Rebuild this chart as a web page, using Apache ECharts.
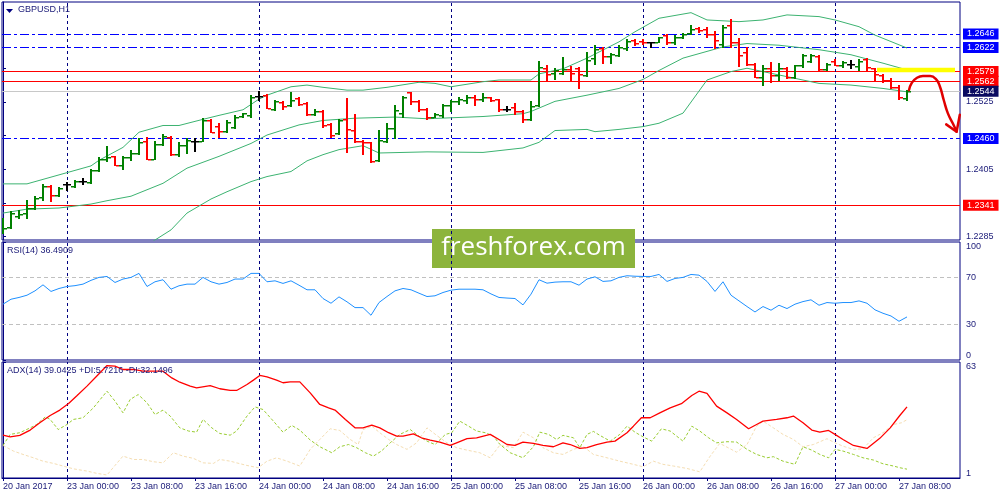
<!DOCTYPE html>
<html><head><meta charset="utf-8">
<script src="https://cdn.jsdelivr.net/npm/echarts/dist/echarts.min.js"></script>
<style>html,body{margin:0;padding:0;background:#fff}#c{width:1000px;height:500px}</style>
</head><body><div id="c"></div><script>
// ---------- DATA ----------
const symbolTitle = 'GBPUSD,H1';
const rsiTitle = 'RSI(14) 36.4909';
const adxTitle = 'ADX(14) 39.0425 +DI:5.7216 -DI:32.1496';
const watermarkText = 'freshforex.com';

const tickIdx = [0, 8, 16, 24, 32, 40, 48, 56, 64, 72, 80, 88, 96, 104, 112];
const tickLabels = ['20 Jan 2017', '23 Jan 00:00', '23 Jan 08:00', '23 Jan 16:00', '24 Jan 00:00', '24 Jan 08:00', '24 Jan 16:00',
  '25 Jan 00:00', '25 Jan 08:00', '25 Jan 16:00', '26 Jan 00:00', '26 Jan 08:00', '26 Jan 16:00', '27 Jan 00:00', '27 Jan 08:00'];
const dayStartIdx = [8, 32, 56, 80, 104];

const opens = [1.2295,1.2302,1.2322,1.2327,1.2336,1.2355,1.2376,1.2359,1.2378,1.2376,1.2385,1.2383,1.2404,1.2424,1.2428,1.2412,1.2426,1.2434,1.2455,1.2424,
1.2450,1.2463,1.2432,1.2448,1.2455,1.2456,1.2492,1.2482,1.2474,1.2481,1.2500,1.2501,1.2536,1.2537,1.2513,1.2525,1.2520,1.2532,1.2523,1.2503,
1.2508,1.2485,1.2469,1.2494,1.2475,1.2455,1.2453,1.2421,1.2456,1.2479,1.2505,1.2542,1.2526,1.2512,1.2499,1.2502,1.2520,1.2526,1.2529,1.2533,
1.2530,1.2533,1.2530,1.2513,1.2516,1.2509,1.2494,1.2519,1.2586,1.2576,1.2577,1.2583,1.2585,1.2573,1.2603,1.2621,1.2606,1.2609,1.2621,1.2635,
1.2634,1.2632,1.2632,1.2644,1.2631,1.2640,1.2647,1.2656,1.2655,1.2646,1.2629,1.2662,1.2632,1.2614,1.2592,1.2570,1.2586,1.2573,1.2585,1.2570,
1.2590,1.2598,1.2606,1.2584,1.2598,1.2590,1.2593,1.2589,1.2602,1.2585,1.2573,1.2564,1.2552,1.2532];
const highs = [1.2318,1.2330,1.2333,1.2351,1.2357,1.2379,1.2377,1.2374,1.2383,1.2386,1.2390,1.2406,1.2426,1.2446,1.2428,1.2428,1.2440,1.2460,1.2462,1.2456,
1.2468,1.2464,1.2454,1.2460,1.2460,1.2496,1.2494,1.2487,1.2492,1.2502,1.2506,1.2537,1.2544,1.2539,1.2529,1.2527,1.2543,1.2534,1.2524,1.2512,
1.2510,1.2487,1.2495,1.2532,1.2504,1.2457,1.2454,1.2475,1.2487,1.2520,1.2536,1.2543,1.2529,1.2514,1.2506,1.2521,1.2529,1.2533,1.2537,1.2537,
1.2541,1.2534,1.2531,1.2518,1.2523,1.2511,1.2526,1.2598,1.2591,1.2585,1.2605,1.2589,1.2588,1.2614,1.2626,1.2623,1.2613,1.2626,1.2637,1.2637,
1.2637,1.2632,1.2641,1.2646,1.2644,1.2647,1.2662,1.2658,1.2658,1.2652,1.2662,1.2672,1.2638,1.2622,1.2594,1.2590,1.2596,1.2594,1.2588,1.2591,
1.2610,1.2610,1.2608,1.2594,1.2602,1.2598,1.2600,1.2602,1.2604,1.2586,1.2574,1.2567,1.2556,1.2546];
const lows = [1.2292,1.2300,1.2318,1.2318,1.2334,1.2350,1.2349,1.2358,1.2368,1.2374,1.2379,1.2381,1.2402,1.2419,1.2412,1.2405,1.2422,1.2432,1.2423,1.2423,
1.2449,1.2431,1.2429,1.2434,1.2437,1.2455,1.2471,1.2463,1.2471,1.2479,1.2499,1.2499,1.2529,1.2514,1.2511,1.2512,1.2518,1.2520,1.2502,1.2502,
1.2481,1.2463,1.2468,1.2435,1.2453,1.2432,1.2418,1.2420,1.2454,1.2461,1.2498,1.2521,1.2509,1.2495,1.2498,1.2499,1.2509,1.2521,1.2523,1.2520,
1.2526,1.2526,1.2509,1.2509,1.2504,1.2490,1.2492,1.2517,1.2564,1.2566,1.2575,1.2564,1.2549,1.2572,1.2593,1.2595,1.2594,1.2606,1.2618,1.2626,
1.2628,1.2623,1.2631,1.2629,1.2629,1.2638,1.2646,1.2650,1.2641,1.2621,1.2622,1.2622,1.2589,1.2590,1.2569,1.2555,1.2561,1.2564,1.2567,1.2567,
1.2588,1.2596,1.2582,1.2582,1.2590,1.2588,1.2585,1.2582,1.2582,1.2564,1.2561,1.2550,1.2530,1.2529];
const closes = [1.2301,1.2327,1.2326,1.2336,1.2354,1.2375,1.2359,1.2372,1.2378,1.2384,1.2385,1.2404,1.2424,1.2427,1.2412,1.2426,1.2434,1.2454,1.2424,1.2450,
1.2465,1.2432,1.2448,1.2457,1.2455,1.2492,1.2472,1.2474,1.2490,1.2499,1.2505,1.2533,1.2536,1.2514,1.2527,1.2517,1.2528,1.2521,1.2503,1.2508,
1.2483,1.2466,1.2492,1.2477,1.2456,1.2453,1.2420,1.2457,1.2478,1.2510,1.2533,1.2526,1.2512,1.2499,1.2503,1.2520,1.2526,1.2530,1.2533,1.2530,
1.2533,1.2529,1.2512,1.2513,1.2509,1.2494,1.2518,1.2587,1.2575,1.2581,1.2583,1.2576,1.2575,1.2600,1.2619,1.2606,1.2610,1.2623,1.2634,1.2630,
1.2631,1.2632,1.2640,1.2632,1.2641,1.2646,1.2655,1.2653,1.2646,1.2635,1.2659,1.2631,1.2609,1.2593,1.2570,1.2585,1.2573,1.2586,1.2570,1.2590,
1.2608,1.2608,1.2584,1.2592,1.2591,1.2596,1.2593,1.2598,1.2588,1.2574,1.2564,1.2552,1.2533,1.2544];

const bbUpper = [[0,1.2379],[3,1.2379],[7,1.2395],[11,1.2411],[12,1.2421],[15,1.2444],[17,1.2471],[20,1.2483],[22,1.2483],[25,1.2494],[27,1.2501],[30,1.2511],
[32,1.2530],[33,1.2537],[36,1.2552],[38,1.2555],[40,1.2551],[43,1.2546],[45,1.2546],[48,1.2551],[52,1.2560],[54,1.2558],[56,1.2552],[60,1.2561],[62,1.2564],
[66,1.2564],[67,1.2575],[70,1.2584],[73,1.2603],[77,1.2632],[79,1.2650],[82,1.2674],[86,1.2684],[88,1.2671],[92,1.2668],[95,1.2671],[98,1.2680],[102,1.2677],
[104,1.2671],[107,1.2659],[109,1.2644],[113,1.2621]];
const bbMiddle = [[0,1.2327],[3,1.2334],[7,1.2336],[11,1.2343],[13,1.2349],[16,1.2357],[20,1.2380],[23,1.2407],[27,1.2428],[31,1.2451],[33,1.2466],[37,1.2484],
[40,1.2492],[44,1.2496],[49,1.2498],[53,1.2495],[60,1.2499],[65,1.2504],[66,1.2508],[69,1.2526],[73,1.2537],[77,1.2549],[80,1.2565],[82,1.2581],[85,1.2603],
[90,1.2623],[93,1.2629],[97,1.2626],[102,1.2618],[106,1.2609],[110,1.2594],[113,1.2582]];
const bbLower = [[15,1.2245],[19,1.2279],[21,1.2297],[23,1.2327],[26,1.2352],[28,1.2365],[31,1.2383],[33,1.2392],[36,1.2401],[38,1.2420],[40,1.2431],[42,1.2440],
[45,1.2447],[47,1.2434],[53,1.2436],[60,1.2435],[65,1.2443],[67,1.2453],[69,1.2474],[73,1.2476],[74,1.2472],[77,1.2476],[80,1.2481],[82,1.2487],[85,1.2505],
[88,1.2564],[89,1.2569],[91,1.2579],[93,1.2585],[97,1.2573],[102,1.2558],[106,1.2555],[110,1.2549],[113,1.2543]];

const levelValues = [1.2646, 1.2622, 1.2579, 1.2562, 1.2544, 1.2460, 1.2341];
const levelKinds = ['support', 'support', 'resist', 'resist', 'bid', 'support', 'resist'];
const priceTicks = [1.2285, 1.2345, 1.2405, 1.2465, 1.2525, 1.2585, 1.2645];
const priceLabels = [1.2285, 1.2405, 1.2525];
const highlightBox = [109.25, 119.0, 1.2578, 1.2586];
const arrowPath = [[113.25,1.2546],[113.6,1.2559],[114.25,1.2568],[115.0,1.2571],[115.9,1.2571],[116.6,1.2566],[117.1,1.2553],[117.6,1.2528],[118.1,1.2505],[118.75,1.2486],[119.2,1.2472]];
const arrowHead = [[117.9,1.2485],[119.2,1.2472],[119.6,1.2502]];

const rsiValues = [47.3,51.5,53.0,54.9,58.6,63.7,58.1,60.6,62.3,63.0,64.3,67.5,70.0,70.8,65.7,68.6,70.0,73.4,62.3,66.3,
68.0,60.0,62.9,64.3,64.3,70.0,66.3,64.3,65.7,68.6,68.6,73.4,73.4,66.3,67.1,64.9,67.1,63.4,59.5,59.5,
52.1,48.1,53.5,49.3,44.4,44.4,37.9,48.7,53.8,58.6,60.6,59.5,56.6,53.8,54.4,57.2,59.2,60.0,60.0,60.0,
59.5,56.0,53.0,52.5,52.1,46.7,55.8,68.0,65.1,66.0,66.3,66.3,63.4,68.6,70.5,66.6,67.1,70.0,71.4,71.0,
70.8,70.8,72.5,66.6,69.1,70.0,72.5,71.9,66.6,58.1,66.3,54.9,50.1,45.3,40.7,45.3,42.2,46.4,43.6,47.3,
49.5,51.0,46.4,48.7,48.1,48.7,48.7,50.1,48.1,42.5,39.6,37.3,32.8,36.5];
const rsiLevels = [70, 30];
const rsiLabels = [0, 30, 70, 100];

const adxMain = [[0,23.9],[0.9,23.0],[2.1,23.8],[3.4,26.6],[4.6,30.5],[5.9,34.4],[7.1,37.3],[8.2,40.8],[9.2,44.8],[10.5,50.1],[11.7,55.4],[13,61.1],[14,60.8],
[15,59.0],[16.3,59.0],[17.5,58.1],[18.8,58.1],[20,58.1],[21.1,54.5],[22.1,52.2],[23.4,50.1],[24.2,49.2],[25.9,50.4],[27.1,48.7],[28.4,47.8],[29.2,47.8],
[30.5,51.0],[31.3,53.3],[32.1,55.8],[33,55.1],[34.2,53.3],[35,51.9],[35.9,52.4],[37.1,52.4],[38.4,46.5],[39.6,40.3],[40.7,38.5],[41.5,37.3],[42.8,32.3],
[44,27.8],[45,27.8],[46.1,29.3],[47.1,27.8],[48.2,25.2],[49.2,23.4],[50,23.4],[51.3,24.6],[52.3,22.5],[53.4,21.3],[54.6,20.2],[55.9,18.4],[56.7,19.8],
[58,22.0],[59.2,22.5],[60.9,24.3],[62.1,21.3],[63,18.9],[64,18.4],[65,20.2],[66.3,19.5],[67.5,18.4],[68.8,17.7],[70,19.8],[70.9,18.9],[72.1,16.8],
[73,17.2],[74.2,18.9],[75.5,20.2],[76.5,20.7],[78,25.2],[78.8,28.7],[79.8,33.2],[80.9,33.2],[82.1,35.8],[83.4,38.5],[84.8,40.7],[86.1,45.1],[87,47.4],
[88,46.2],[89.2,39.4],[90.5,35.8],[91.7,32.3],[93.2,27.3],[94.2,29.6],[95,31.4],[96.7,32.3],[98,33.2],[98.8,34.1],[100,30.5],[101.1,26.6],[102.1,25.5],
[103.2,26.4],[104,24.3],[105,21.6],[106.3,18.4],[108,16.8],[109.6,22.2],[110.9,27.8],[112.1,34.4],[113,39.04]];
const plusDI = [[0,18.4],[0.9,24.3],[2.1,25.2],[3.4,27.8],[4.2,29.6],[5.3,33.7],[5.9,32.3],[6.9,26.9],[8,29.6],[8.8,32.3],[10,33.2],[11.3,38.5],[13,47.4],
[14,42.1],[15,35.8],[15.9,43.0],[16.9,45.6],[18,41.2],[19,34.9],[20,37.3],[20.9,34.1],[22.1,27.8],[23.2,26.1],[24.2,25.5],[25,32.3],[26.1,27.8],[27.1,24.8],
[28.4,23.9],[29.2,26.1],[30.5,34.1],[31.5,39.0],[32.5,37.6],[33.8,31.4],[35,25.5],[36.1,29.1],[37.1,26.6],[38.4,21.3],[39.6,17.7],[41.1,14.5],[42.1,17.7],
[43.2,18.9],[44.2,17.2],[45.3,14.5],[46.3,12.7],[47.3,15.4],[48.4,19.8],[49.6,24.3],[50.9,26.9],[52.1,23.0],[53,20.7],[54,18.9],[55.3,24.3],[56.1,25.2],
[57.1,31.4],[58.2,28.7],[59.2,26.1],[60.3,25.2],[61.3,23.4],[62.1,19.0],[63.4,14.5],[65,11.8],[66.3,17.7],[67.1,25.5],[68.2,24.3],[69.2,21.6],[70,23.8],
[71.3,22.5],[72.1,17.2],[73,24.3],[73.8,25.9],[74.6,23.8],[75.9,20.7],[77.1,24.3],[78,28.7],[79,25.5],[80,23.0],[81.1,20.7],[82.3,27.3],[83.4,26.1],
[85,20.7],[86.1,28.7],[87.1,26.1],[88.2,22.5],[89.2,19.8],[90.5,20.4],[91.7,20.2],[93,16.3],[94.2,13.6],[95.5,11.8],[96.3,12.4],[97.5,10.0],[99,8.3],
[100,17.7],[101.1,15.9],[102.1,13.6],[103.2,11.8],[104,16.3],[105,15.4],[106.3,13.6],[107.5,11.8],[108.8,10.6],[110,8.6],[111.3,7.4],[112.1,6.5],[113,5.72]];
const minusDI = [[0,18.4],[1.3,15.4],[2.5,13.6],[3.8,11.8],[5,10.0],[6.3,8.8],[7.5,7.4],[8.8,5.9],[10.5,4.7],[11.7,3.5],[13,2.6],[14,7.7],[15,12.7],[16.3,10.9],
[17.5,10.9],[18.8,9.7],[20,9.1],[21.3,14.5],[22.5,12.7],[23.8,11.5],[25,9.1],[26.3,8.8],[27.1,10.9],[28.4,10.0],[29.2,9.1],[30.5,7.7],[31.9,6.5],[33,10.0],
[34.2,11.8],[35.5,10.0],[37.1,7.4],[38.4,16.3],[39.6,21.6],[40.9,27.3],[42.1,26.4],[43.4,21.6],[44.4,18.9],[45,26.9],[46.1,28.7],[47.1,25.2],[48.2,21.6],
[49.2,18.9],[50.5,16.3],[51.7,19.8],[53,27.8],[54.2,23.8],[55.5,19.8],[56.7,17.2],[58,15.9],[59.6,14.5],[60.9,11.8],[62.1,18.5],[63.8,17.2],[65,25.5],
[66.3,22.5],[67.5,17.2],[68.8,14.5],[70,13.6],[71.3,16.3],[72.5,18.0],[73.8,13.6],[75.5,11.8],[77.1,10.0],[78.8,8.3],[80,7.0],[81.3,10.0],[82.5,8.3],
[83.8,7.4],[85.5,6.1],[87.1,4.3],[88.4,12.7],[89.6,19.5],[90.9,16.6],[91.7,14.8],[93,18.9],[94.2,28.7],[95,31.4],[96.3,27.8],[97.5,24.3],[98.8,21.6],
[100,17.7],[101.3,18.9],[103,22.0],[104,19.8],[105,18.0],[106.3,16.3],[107.5,16.6],[108.8,22.5],[110,25.2],[111.3,29.6],[112.3,30.5],[113,32.15]];
const adxLabels = [1, 63];

// ---------- STYLE ----------
const NAVY = '#000080';
const TXT = '#1a1a78';
const FONT = 'Liberation Sans, Arial, sans-serif';
const X_MIN = -0.125, X_MAX = 119.625;
const kindStyle = {
  support: { line: '#0000ff', type: [9, 3, 3, 3], box: '#0000ff' },
  resist: { line: '#ff0000', type: 'solid', box: '#ff0000' },
  bid: { line: '#c8c8c8', type: 'solid', box: '#0a0a60' }
};

const bars = opens.map((o, i) => [i, o, highs[i], lows[i], closes[i]]);

function renderBar(params, api) {
  const i = api.value(0), o = api.value(1), h = api.value(2), l = api.value(3), c = api.value(4);
  const pH = api.coord([i, h]), pL = api.coord([i, l]), pO = api.coord([i, o]), pC = api.coord([i, c]);
  const col = c > o ? '#008000' : (c < o ? '#ff0000' : '#000000');
  const x = Math.round(pH[0]);
  const yH = Math.round(pH[1]), yL = Math.round(pL[1]);
  const yO = Math.round(pO[1]), yC = Math.round(pC[1]);
  return { type: 'group', children: [
    { type: 'rect', shape: { x: x - 1, y: yH, width: 2, height: Math.max(2, yL - yH + 1) }, style: { fill: col } },
    { type: 'rect', shape: { x: x - 4, y: yO, width: 3, height: 1.5 }, style: { fill: col } },
    { type: 'rect', shape: { x: x + 1, y: yC, width: 3, height: 1.5 }, style: { fill: col } }
  ] };
}

const dayLines = dayStartIdx.map(d => ({ xAxis: d, lineStyle: { color: NAVY, type: [3, 3], width: 1 }, label: { show: false } }));
const levelLines = levelValues.map((v, k) => {
  const s = kindStyle[levelKinds[k]];
  return { yAxis: v, lineStyle: { color: s.line, type: s.type, width: 1 },
    label: { show: true, position: 'end', distance: 3, formatter: v.toFixed(4), color: '#fff', backgroundColor: s.box,
      padding: [1, 4, 0, 4], fontFamily: FONT, fontSize: 9, lineHeight: 10 } };
});

function xAxisFor(g, show) {
  return { type: 'value', gridIndex: g, min: X_MIN, max: X_MAX, show: show,
    axisLine: { show: show, onZero: false, lineStyle: { color: NAVY } },
    axisTick: { show: show, customValues: tickIdx, length: 3, lineStyle: { color: NAVY } },
    axisLabel: { show: show, customValues: tickIdx, formatter: v => tickLabels[tickIdx.indexOf(v)] || '', align: 'left',
      color: TXT, fontFamily: FONT, fontSize: 9, margin: 4 },
    splitLine: { show: false } };
}

const chart = echarts.init(document.getElementById('c'), null, { renderer: 'canvas' });
chart.setOption({
  animation: false,
  backgroundColor: '#ffffff',
  grid: [
    { left: 2, top: 2, width: 958, height: 238, show: true, borderColor: NAVY, borderWidth: 1 },
    { left: 2, top: 242, width: 958, height: 118, show: true, borderColor: NAVY, borderWidth: 1 },
    { left: 2, top: 362, width: 958, height: 116, show: true, borderColor: NAVY, borderWidth: 1 }
  ],
  xAxis: [xAxisFor(0, false), xAxisFor(1, false), xAxisFor(2, true)],
  yAxis: [
    { type: 'value', gridIndex: 0, position: 'right', min: 1.2279, max: 1.2703,
      axisLine: { show: true, lineStyle: { color: NAVY } },
      axisTick: { show: true, customValues: priceTicks, length: 3, lineStyle: { color: NAVY } },
      axisLabel: { customValues: priceLabels, formatter: v => v.toFixed(4), color: TXT, fontFamily: FONT, fontSize: 9, margin: 6 },
      splitLine: { show: false } },
    { type: 'value', gridIndex: 1, position: 'right', min: 0, max: 100,
      axisLine: { show: true, lineStyle: { color: NAVY } },
      axisTick: { show: true, customValues: rsiLabels, length: 3, lineStyle: { color: NAVY } },
      axisLabel: { customValues: rsiLabels, color: TXT, fontFamily: FONT, fontSize: 9, margin: 6,
        verticalAlignMinLabel: 'bottom', verticalAlignMaxLabel: 'top' },
      splitLine: { show: false } },
    { type: 'value', gridIndex: 2, position: 'right', min: 1, max: 63,
      axisLine: { show: true, lineStyle: { color: NAVY } },
      axisTick: { show: true, customValues: adxLabels, length: 3, lineStyle: { color: NAVY } },
      axisLabel: { customValues: adxLabels, color: TXT, fontFamily: FONT, fontSize: 9, margin: 6,
        verticalAlignMinLabel: 'bottom', verticalAlignMaxLabel: 'top' },
      splitLine: { show: false } }
  ],
  series: [
    { type: 'line', xAxisIndex: 0, yAxisIndex: 0, data: [], silent: true,
      markLine: { silent: true, symbol: 'none', z: 1, precision: 4, animation: false, data: levelLines.concat(dayLines) },
      markArea: { silent: true, z: 6, precision: 4, itemStyle: { color: '#ffff00' },
        data: [[{ xAxis: highlightBox[0], yAxis: highlightBox[2] }, { xAxis: highlightBox[1], yAxis: highlightBox[3] }]] } },
    { type: 'line', name: 'BB upper', xAxisIndex: 0, yAxisIndex: 0, data: bbUpper, symbol: 'none', silent: true, z: 3,
      lineStyle: { color: '#3cb371', width: 1 } },
    { type: 'line', name: 'BB middle', xAxisIndex: 0, yAxisIndex: 0, data: bbMiddle, symbol: 'none', silent: true, z: 3,
      lineStyle: { color: '#3cb371', width: 1 } },
    { type: 'line', name: 'BB lower', xAxisIndex: 0, yAxisIndex: 0, data: bbLower, symbol: 'none', silent: true, z: 3,
      lineStyle: { color: '#3cb371', width: 1 } },
    { type: 'custom', name: 'GBPUSD', xAxisIndex: 0, yAxisIndex: 0, data: bars, renderItem: renderBar, silent: true, z: 10,
      clip: true, encode: { x: 0, y: [1, 2, 3, 4] } },
    { type: 'line', name: 'arrow', xAxisIndex: 0, yAxisIndex: 0, data: arrowPath, smooth: 0.5, symbol: 'none', silent: true, z: 20,
      clip: false, lineStyle: { color: '#e00000', width: 2.5, cap: 'round' } },
    { type: 'line', name: 'arrowHead', xAxisIndex: 0, yAxisIndex: 0, data: arrowHead, symbol: 'none', silent: true, z: 20,
      clip: false, lineStyle: { color: '#e00000', width: 2.5, cap: 'round', join: 'round' } },
    { type: 'line', name: 'RSI', xAxisIndex: 1, yAxisIndex: 1, data: rsiValues.map((v, i) => [i, v]), symbol: 'none', silent: true, z: 5,
      lineStyle: { color: '#1e90ff', width: 1 },
      markLine: { silent: true, symbol: 'none', z: 1, precision: 4, animation: false,
        data: rsiLevels.map(v => ({ yAxis: v, lineStyle: { color: '#c0c0c0', type: [4, 3], width: 1 }, label: { show: false } })).concat(dayLines) } },
    { type: 'line', name: '-DI', xAxisIndex: 2, yAxisIndex: 2, data: minusDI, symbol: 'none', silent: true, z: 3,
      lineStyle: { color: '#f5deb3', width: 1, type: [3, 2] },
      markLine: { silent: true, symbol: 'none', z: 1, precision: 4, animation: false, data: dayLines } },
    { type: 'line', name: '+DI', xAxisIndex: 2, yAxisIndex: 2, data: plusDI, symbol: 'none', silent: true, z: 4,
      lineStyle: { color: '#9acd32', width: 1, type: [3, 2] } },
    { type: 'line', name: 'ADX', xAxisIndex: 2, yAxisIndex: 2, data: adxMain, symbol: 'none', silent: true, z: 5,
      lineStyle: { color: '#ff0000', width: 1.3 } }
  ],
  graphic: [
    { type: 'polygon', z: 50, shape: { points: [[6, 9], [13, 9], [9.5, 13]] }, style: { fill: NAVY } },
    { type: 'text', z: 50, left: 18, top: 5, style: { text: symbolTitle, fill: TXT, font: '9px Liberation Sans' } },
    { type: 'text', z: 50, left: 7, top: 246, style: { text: rsiTitle, fill: TXT, font: '9px Liberation Sans' } },
    { type: 'text', z: 50, left: 7, top: 366, style: { text: adxTitle, fill: TXT, font: '9px Liberation Sans' } },
    { type: 'group', z: 60, children: [
      { type: 'rect', shape: { x: 432, y: 229, width: 203, height: 39 }, style: { fill: '#8cb43c' } },
      { type: 'text', x: 533.5, y: 248, style: { text: watermarkText, fill: '#ffffff', font: '26px Open Sans',
        textAlign: 'center', textVerticalAlign: 'middle' } }
    ] }
  ]
});
</script></body></html>
